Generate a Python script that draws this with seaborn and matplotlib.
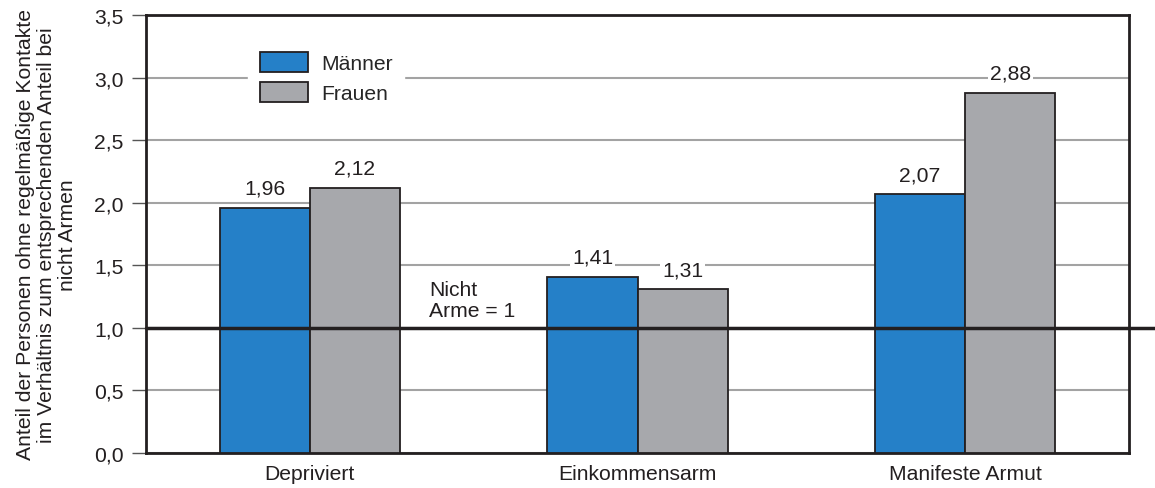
import matplotlib
matplotlib.use("Agg")
import matplotlib.pyplot as plt
import seaborn as sns
import pandas as pd

categories = ["Depriviert", "Einkommensarm", "Manifeste Armut"]
maenner = [1.96, 1.41, 2.07]
frauen = [2.12, 1.31, 2.88]
series = ["Männer", "Frauen"]
yticks = [0.0, 0.5, 1.0, 1.5, 2.0, 2.5, 3.0, 3.5]

df = pd.DataFrame({
    "kategorie": categories * 2,
    "wert": maenner + frauen,
    "gruppe": [series[0]] * 3 + [series[1]] * 3,
})

FS = 15.2
sns.set_style("white")
plt.rcParams["font.family"] = ["Liberation Sans", "DejaVu Sans"]
plt.rcParams["font.size"] = FS

fig = plt.figure(figsize=(11.55, 4.89), dpi=100)
ax = fig.add_axes([146 / 1155, 1 - 454 / 489, (1129 - 146) / 1155, (454 - 16) / 489])

colors = {"Männer": "#2580c8", "Frauen": "#a7a8ac"}
sns.barplot(data=df, x="kategorie", y="wert", hue="gruppe", palette=colors,
            width=0.55, edgecolor="#231f20", linewidth=1.3, saturation=1,
            ax=ax, zorder=3)

ax.set_xlim(-0.5, 2.5)
ax.set_ylim(0, 3.5)
ax.set_yticks(yticks)
ax.set_yticklabels([f"{t:.1f}".replace(".", ",") for t in yticks])
ax.yaxis.grid(True, color="#a3a3a3", linewidth=1.5, zorder=0)
ax.set_axisbelow(True)
ax.tick_params(axis="y", direction="out", length=10, width=1, color="#555555",
               left=True, pad=6, labelsize=FS, labelcolor="#231f20")
ax.tick_params(axis="x", length=0, pad=8, labelsize=FS, labelcolor="#231f20")
ax.set_xlabel("")
ax.set_ylabel("Anteil der Personen ohne regelmäßige Kontakte\n"
              "im Verhältnis zum entsprechenden Anteil bei\nnicht Armen",
              fontsize=FS, color="#231f20", labelpad=12, linespacing=1.15)
for s in ax.spines.values():
    s.set_color("#231f20")
    s.set_linewidth(2)

# reference line at 1 (nicht Arme)
ax.axhline(1.0, color="#231f20", linewidth=2.5, zorder=5, clip_on=False,
           xmax=(1155 - 146) / (1129 - 146))
ax.text(0.365, 1.22, "Nicht\nArme = 1", fontsize=FS, color="#231f20",
        va="center", ha="left", linespacing=1.12, zorder=6)

for cont in ax.containers:
    labels = [f"{v:.2f}".replace(".", ",") for v in cont.datavalues]
    txts = ax.bar_label(cont, labels=labels, padding=7, fontsize=FS,
                        color="#231f20", zorder=6)
    for t in txts:
        t.set_bbox(dict(facecolor="white", edgecolor="none", pad=1.5))

leg = ax.legend(loc="upper left", bbox_to_anchor=(0.093, 0.965), frameon=True,
                facecolor="white", edgecolor="white", framealpha=1,
                fontsize=FS, handlelength=2.3, handleheight=1.05,
                labelspacing=0.4, handletextpad=0.6, borderpad=0.55)
leg.set_zorder(6)
for h in leg.legend_handles:
    h.set_edgecolor("#231f20")
    h.set_linewidth(1.3)

plt.savefig("out.png", dpi=100)
plt.close()
